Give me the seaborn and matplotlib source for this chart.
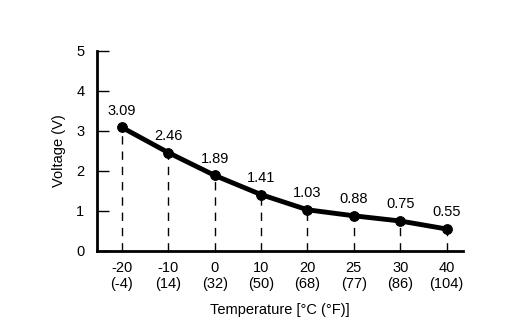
import matplotlib
matplotlib.use("Agg")
import matplotlib.pyplot as plt
import seaborn as sns
import pandas as pd

temps_c = ["-20", "-10", "0", "10", "20", "25", "30", "40"]
temps_f = ["-4", "14", "32", "50", "68", "77", "86", "104"]
voltage = [3.09, 2.46, 1.89, 1.41, 1.03, 0.88, 0.75, 0.55]

sns.set_style("white")
plt.rcParams["font.family"] = ["Liberation Sans", "DejaVu Sans"]
plt.rcParams["text.color"] = "black"
plt.rcParams["axes.labelcolor"] = "black"
plt.rcParams["xtick.color"] = "black"
plt.rcParams["ytick.color"] = "black"

labels = [f"{c}\n({f})" for c, f in zip(temps_c, temps_f)]
df = pd.DataFrame({"pos": range(len(voltage)), "voltage": voltage})

fig = plt.figure(figsize=(5.32, 3.31), dpi=100)
ax = fig.add_axes([0.182, 0.2417, 0.688, 0.6043])

for x, v in zip(df["pos"], df["voltage"]):
    ax.plot([x, x], [0, v], color="black", lw=1, ls=(0, (6, 5)), zorder=1)

sns.lineplot(data=df, x="pos", y="voltage", ax=ax, color="black", lw=3.5,
             marker="o", markersize=7, markeredgecolor="black", zorder=3)

fs = 10.5
for x, v in zip(df["pos"], df["voltage"]):
    ax.annotate(f"{v:.2f}", (x, v), xytext=(0, 12), textcoords="offset points",
                ha="center", va="center", fontsize=fs, color="black")

ax.set_xlim(-0.54, 7.35)
ax.set_ylim(0, 5)
ax.set_yticks([0, 1, 2, 3, 4, 5])
ax.set_xticks(range(len(labels)))
ax.set_xticklabels(labels)
ax.tick_params(axis="y", direction="in", length=8.5, width=1, pad=9, labelsize=fs, left=True)
ax.tick_params(axis="x", length=0, pad=7, labelsize=fs)
for s in ["top", "right"]:
    ax.spines[s].set_visible(False)
for s in ["left", "bottom"]:
    ax.spines[s].set_color("black")
    ax.spines[s].set_linewidth(2)
ax.set_xlabel("Temperature [°C (°F)]", fontsize=fs, labelpad=9)
ax.set_ylabel("Voltage (V)", fontsize=fs, labelpad=7)

fig.savefig("out.png", dpi=100)
